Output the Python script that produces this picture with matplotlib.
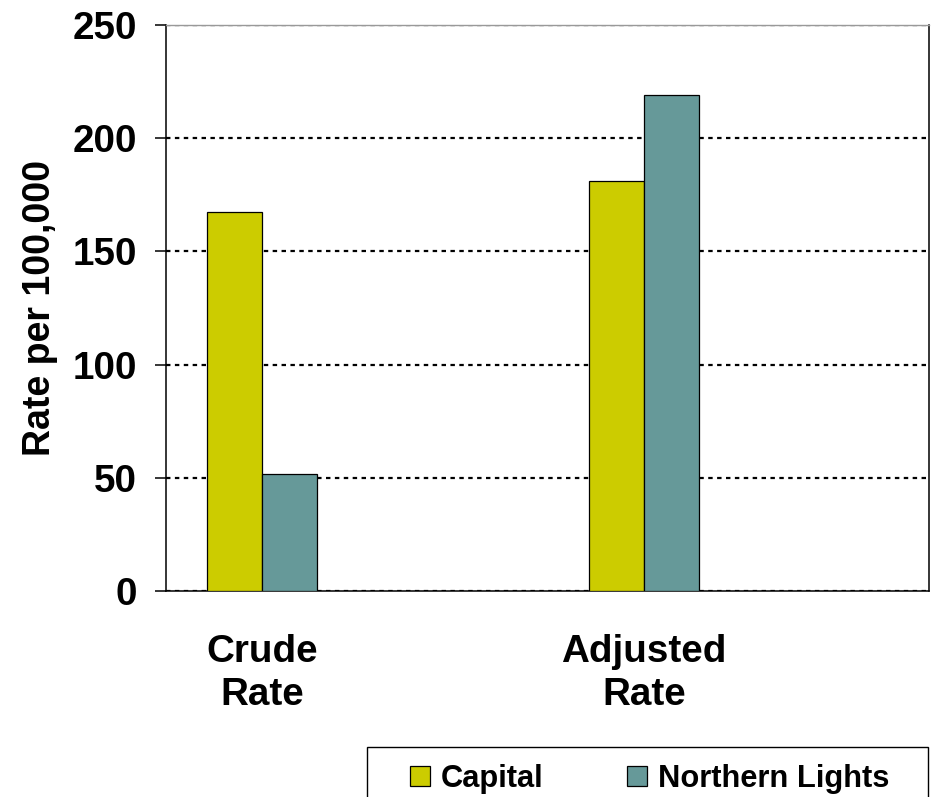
import matplotlib
matplotlib.use("Agg")
import matplotlib.pyplot as plt
from matplotlib.patches import Rectangle
import numpy as np

categories = ["Crude\nRate", "Adjusted\nRate"]
series_names = ["Capital", "Northern Lights"]
capital = [167.3, 181.2]
northern = [51.8, 219.3]
colors = ["#CCCC00", "#669999"]
yticks = [0, 50, 100, 150, 200, 250]

plt.rcParams['font.family'] = ['Liberation Sans', 'DejaVu Sans']
plt.rcParams['font.weight'] = 'bold'

fig = plt.figure(figsize=(9.32, 7.97), dpi=100)
ax = fig.add_axes([166/932, 1-591/797, (929-166)/932, (591-25)/797])

x = np.arange(len(categories))
w = 0.1436
ax.bar(x - w/2, capital, w, color=colors[0], edgecolor='black', linewidth=0.9, label=series_names[0], zorder=3)
ax.bar(x + w/2, northern, w, color=colors[1], edgecolor='black', linewidth=0.9, label=series_names[1], zorder=3)

ax.set_xlim(-0.2513, 1.746)
ax.set_ylim(0, 250)
ax.set_yticks(yticks)
ax.set_yticklabels([str(v) for v in yticks], fontsize=27.8, fontweight='bold')
ax.set_xticks(x)
ax.set_xticklabels(categories, fontsize=27.8, fontweight='bold', linespacing=1.24)
ax.tick_params(axis='x', length=0, pad=31)
ax.tick_params(axis='y', length=8, width=1.1, pad=13, direction='out')

ax.yaxis.grid(True, color='black', linestyle=(0, (2, 2)), linewidth=1.6, zorder=1)
ax.set_axisbelow(True)

for s in ['left', 'bottom', 'right']:
    ax.spines[s].set_linewidth(1.1)
    ax.spines[s].set_color('black')
ax.spines['top'].set_color('#999999')
ax.spines['top'].set_linewidth(1.0)

ax.set_ylabel("Rate per 100,000", fontsize=27, fontweight='bold', labelpad=10)

# legend frame (extends past the bottom edge like the reference)
fig.patches.append(Rectangle((367/932, -0.05), (928-367)/932, (1-747/797) + 0.05,
                             transform=fig.transFigure, facecolor='white',
                             edgecolor='black', linewidth=1.0, zorder=0))

leg = fig.legend(loc='center left', bbox_to_anchor=(410/932, 1-779/797), ncol=2,
                 prop={'family': 'Liberation Sans', 'weight': 'bold', 'size': 22.2},
                 handlelength=0.65, handleheight=0.65, handletextpad=0.36,
                 columnspacing=2.7, borderpad=0, borderaxespad=0,
                 frameon=False)

fig.savefig("out.png", dpi=100)
